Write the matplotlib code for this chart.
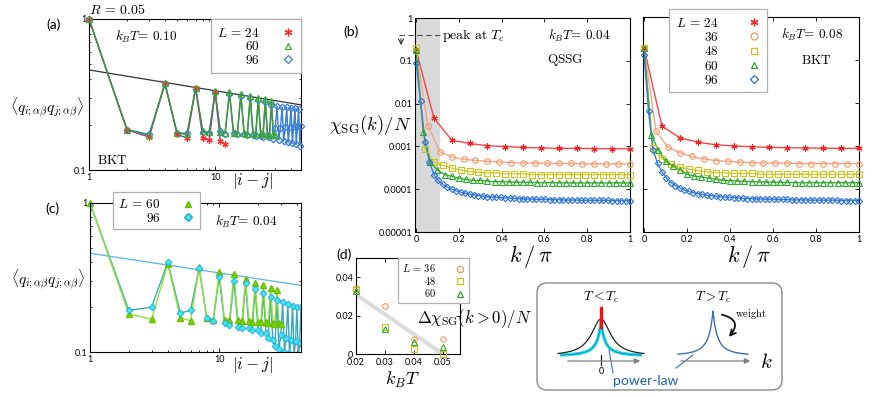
import numpy as np
import matplotlib
matplotlib.use('Agg')
import matplotlib.pyplot as plt
from matplotlib.lines import Line2D
from matplotlib.patches import FancyBboxPatch, FancyArrowPatch
from matplotlib.ticker import NullFormatter, NullLocator

plt.rcParams['font.family'] = ['Lato', 'DejaVu Sans']
plt.rcParams['mathtext.fontset'] = 'cm'
plt.rcParams['axes.linewidth'] = 0.8

# ---------------- (a) R = 0.05, kBT = 0.10 : correlation vs |i-j| ----------------
corr_a_L24 = [1.0, 0.185, 0.165, 0.375, 0.172, 0.163, 0.35, 0.163, 0.158, 0.33, 0.155, 0.148]
corr_a_L60 = [1.0, 0.185, 0.17, 0.375, 0.175, 0.172, 0.35, 0.18, 0.178, 0.335,
              0.178, 0.176, 0.33, 0.177, 0.175, 0.32, 0.176, 0.174, 0.31, 0.176,
              0.173, 0.30, 0.175, 0.172, 0.295, 0.174, 0.171, 0.288, 0.173, 0.17]
corr_a_L96 = [1.0, 0.185, 0.172, 0.37, 0.176, 0.175, 0.345, 0.178, 0.176, 0.33,
              0.18, 0.174, 0.32, 0.175, 0.172, 0.31, 0.172, 0.17, 0.30, 0.17,
              0.168, 0.29, 0.168, 0.166, 0.28, 0.167, 0.165, 0.27, 0.16, 0.19,
              0.265, 0.158, 0.19, 0.262, 0.155, 0.192, 0.26, 0.153, 0.193, 0.258,
              0.15, 0.195, 0.257, 0.148, 0.196, 0.255, 0.145, 0.197]
fit_a_x = [1, 48]
fit_a_y = [0.46, 0.27]

# ---------------- (c) kBT = 0.04 ----------------
corr_c_L60 = [1.0, 0.18, 0.166, 0.39, 0.17, 0.162, 0.37, 0.17, 0.165, 0.345,
              0.165, 0.163, 0.333, 0.163, 0.162, 0.31, 0.162, 0.16, 0.29, 0.16,
              0.158, 0.28, 0.158, 0.157, 0.27, 0.157, 0.155, 0.262, 0.156, 0.155]
corr_c_L96 = [1.0, 0.19, 0.2, 0.40, 0.183, 0.19, 0.366, 0.17, 0.162, 0.32,
              0.157, 0.152, 0.30, 0.147, 0.145, 0.29, 0.145, 0.14, 0.265, 0.14,
              0.135, 0.25, 0.135, 0.125, 0.235, 0.12, 0.11, 0.224, 0.105, 0.13,
              0.215, 0.10, 0.125, 0.21, 0.098, 0.12, 0.205, 0.095, 0.118, 0.20,
              0.092, 0.115, 0.20, 0.09, 0.112, 0.195, 0.088, 0.14]
fit_c_x = [1, 43]
fit_c_y = [0.46, 0.28]

# ---------------- (b) chi_SG(k)/N ----------------
chi04_L24 = [0.18, 0.0046, 0.0014, 0.00117, 0.00104, 0.00099, 0.00095, 0.00092, 0.0009,
             0.0009, 0.00089, 0.00088, 0.00088]
chi04_L36 = [0.17, 0.003, 0.00075, 0.00057, 0.0005, 0.00047, 0.00045, 0.00043, 0.00042,
             0.00041, 0.00041, 0.0004, 0.0004, 0.0004, 0.00039, 0.00039, 0.00039, 0.00039, 0.00039]
chi04_L48 = [0.2, 0.00087, 0.00044, 0.00036, 0.00031, 0.00028, 0.00026, 0.00025, 0.00024,
             0.00024, 0.00023, 0.00023, 0.00023, 0.00022, 0.00022, 0.00022, 0.00022, 0.00022,
             0.00022, 0.00022, 0.00022, 0.00022, 0.00022, 0.00022, 0.00022]
chi04_L60 = [0.18, 0.0022, 0.00043, 0.00028, 0.00022, 0.0002, 0.00018, 0.00017, 0.00016,
             0.00016, 0.000155, 0.00015, 0.00015, 0.000148, 0.000146, 0.000145, 0.000144,
             0.000143, 0.000142, 0.000142, 0.000141, 0.000141, 0.00014, 0.00014, 0.00014,
             0.00014, 0.00014, 0.00014, 0.00014, 0.00014, 0.00014]
chi04_L96 = [0.09, 0.0117, 0.0013, 0.00043, 0.00022, 0.00016, 0.00013, 0.000112, 0.0001,
             0.000092, 0.000086, 0.000081, 0.000077, 0.000074, 0.000071, 0.000069, 0.000067,
             0.000066, 0.000065, 0.000064, 0.000063, 0.000062, 0.000061, 0.00006, 0.00006,
             0.000059, 0.000059, 0.000058, 0.000058, 0.000058, 0.000057, 0.000057, 0.000057,
             0.000056, 0.000056, 0.000056, 0.000056, 0.000055, 0.000055, 0.000055, 0.000055,
             0.000055, 0.000055, 0.000055, 0.000054, 0.000054, 0.000054, 0.000054, 0.000054]

chi08_L24 = [0.19, 0.0029, 0.00155, 0.00122, 0.00107, 0.001, 0.00096, 0.00093, 0.00091,
             0.0009, 0.00089, 0.00088, 0.00088]
chi08_L36 = [0.19, 0.0022, 0.00093, 0.0007, 0.00057, 0.0005, 0.00046, 0.00044, 0.00042,
             0.00041, 0.0004, 0.0004, 0.0004, 0.00039, 0.00039, 0.00039, 0.00039, 0.00039, 0.00039]
chi08_L48 = [0.19, 0.0009, 0.0005, 0.00038, 0.00032, 0.00029, 0.00027, 0.00025, 0.00024,
             0.00024, 0.00023, 0.00023, 0.00023, 0.00022, 0.00022, 0.00022, 0.00022, 0.00022,
             0.00022, 0.00022, 0.00022, 0.00022, 0.00022, 0.00022, 0.00022]
chi08_L60 = [0.19, 0.0018, 0.0008, 0.00045, 0.00034, 0.00028, 0.00022, 0.0002, 0.00019,
             0.00018, 0.00017, 0.00016, 0.000157, 0.000153, 0.00015, 0.000148, 0.000146,
             0.000145, 0.000144, 0.000143, 0.000142, 0.000141, 0.00014, 0.00014, 0.00014,
             0.00014, 0.00014, 0.00014, 0.00014, 0.00014, 0.00014]
chi08_L96 = [0.13, 0.0064, 0.0008, 0.0004, 0.00025, 0.00018, 0.00014, 0.00012, 0.000105,
             0.000095, 0.000088, 0.000082, 0.000078, 0.000075, 0.000072, 0.00007, 0.000068,
             0.000066, 0.000065, 0.000064, 0.000063, 0.000062, 0.000061, 0.00006, 0.00006,
             0.000059, 0.000059, 0.000058, 0.000058, 0.000058, 0.000057, 0.000057, 0.000057,
             0.000056, 0.000056, 0.000056, 0.000056, 0.000055, 0.000055, 0.000055, 0.000055,
             0.000055, 0.000055, 0.000055, 0.000054, 0.000054, 0.000054, 0.000054, 0.000054]

# ---------------- (d) Delta chi vs kBT ----------------
temps_d = [0.02, 0.03, 0.04, 0.05]
dchi_L36 = [0.034, 0.025, 0.008, 0.008]
dchi_L48 = [0.034, 0.014, 0.0025, 0.0]
dchi_L60 = [0.033, 0.013, 0.0065, 0.0035]
trend_d_x = [0.02, 0.05]
trend_d_y = [0.031, 0.0]

sizes = [24, 36, 48, 60, 96]
colors = ['#ee2222', '#f4995f', '#c9c41c', '#2ea62e', '#2e72d4']
line_colors = ['#f04848', '#f5a589', '#d0cc34', '#38ac38', '#3c80da']
markers = [(6, 2, 0), 'o', 's', '^', 'D']
msizes = [4.5, 4, 4, 4, 3.2]

W, H = 872, 397
fig = plt.figure(figsize=(W / 100, H / 100), dpi=100)


def box(x0, y0, x1, y1):
    return [x0 / W, 1 - y1 / H, (x1 - x0) / W, (y1 - y0) / H]


def style(ax):
    ax.tick_params(which='both', direction='in', top=True, right=True,
                   labelsize=6.5, pad=2, width=0.6)
    ax.tick_params(which='major', length=3)
    ax.tick_params(which='minor', length=1.6)


def corr_axes(ax, xmax):
    ax.set_xscale('log')
    ax.set_yscale('log')
    ax.set_xlim(1, xmax)
    ax.set_ylim(0.1, 1)
    ax.set_xticks([1, 10], ['1', '10'])
    ax.set_yticks([0.1, 1], ['0.1', '1'])
    ax.xaxis.set_minor_formatter(NullFormatter())
    ax.yaxis.set_minor_formatter(NullFormatter())
    style(ax)


def small_legend(ax, handles, anchor, fs, pad_text):
    leg = ax.legend(handles=handles, loc='upper left', bbox_to_anchor=anchor,
                    markerfirst=False, fancybox=False, edgecolor='#b0b0b0', framealpha=1,
                    fontsize=fs, borderaxespad=0, handlelength=1.0, handletextpad=pad_text,
                    labelspacing=0.05, borderpad=0.4)
    leg.get_frame().set_linewidth(0.9)
    leg.set_zorder(6)
    return leg


# ---- (a)
ax_a = fig.add_axes(box(89, 19, 301, 170))
corr_axes(ax_a, 48)
ax_a.plot(fit_a_x, fit_a_y, color='#333333', lw=0.9)
for vals, lc in [(corr_a_L96, '#3a7fd6'), (corr_a_L24, '#9b30c8'), (corr_a_L60, '#3f9a2a')]:
    x = np.arange(1, len(vals) + 1)
    ax_a.plot(x, vals, color=lc, lw=1.0, zorder=2)
ha = []
for vals, mc, mk, ms, lab, z in [
        (corr_a_L96, '#3a7fd6', 'D', 3.3, r'$96$', 3),
        (corr_a_L24, '#ff2a2a', (6, 2, 0), 4.5, r'$L\,=\,24$', 4),
        (corr_a_L60, '#3aa83a', '^', 4.0, r'$60$', 5)]:
    x = np.arange(1, len(vals) + 1)
    ax_a.plot(x, vals, ls='none', marker=mk, ms=ms, mfc='none', mec=mc, mew=0.9,
              clip_on=False, zorder=z)
    ha.append(Line2D([], [], ls='none', marker=mk, ms=ms + 1, mfc='none', mec=mc, mew=0.9, label=lab))
leg = ax_a.legend(handles=[ha[1], ha[2], ha[0]], loc='upper right', markerfirst=False,
                  fancybox=False, edgecolor='#b0b0b0', framealpha=1, fontsize=9.5,
                  borderaxespad=0, handlelength=1.0, handletextpad=1.6, labelspacing=0.05,
                  borderpad=0.5)
leg.get_frame().set_linewidth(0.9)

# ---- (c)
ax_c = fig.add_axes(box(90, 203, 301, 352))
corr_axes(ax_c, 43)
ax_c.plot(fit_c_x, fit_c_y, color='#5ab4e0', lw=0.9)
x60 = np.arange(1, len(corr_c_L60) + 1)
x96 = np.arange(1, len(corr_c_L96) + 1)
ax_c.plot(x96, corr_c_L96, color='#3aa8b8', lw=1.0)
ax_c.plot(x60, corr_c_L60, color='#8fe03a', lw=1.0)
ax_c.plot(x60, corr_c_L60, ls='none', marker='^', ms=4.0, color='#7ed600', mec='#66c000', clip_on=False)
ax_c.plot(x96, corr_c_L96, ls='none', marker='D', ms=3.5, color='#3ee6f0', mec='#2aa8d8', mew=0.6)
hc = [Line2D([], [], ls='none', marker='^', ms=5, color='#7ed600', mec='#66c000', label=r'$L\,=\,60$'),
      Line2D([], [], ls='none', marker='D', ms=4.5, color='#3ee6f0', mec='#2aa8d8', label=r'$96$')]
small_legend(ax_c, hc, ((113 - 90) / 211, (352 - 192) / 149), 9.5, 1.6)


# ---- (b)
def chi_axes(ax, data, labels):
    ax.set_yscale('log')
    ax.set_xlim(-0.005, 1.0)
    ax.set_ylim(1e-5, 1)
    ax.set_xticks([0, 0.2, 0.4, 0.6, 0.8, 1], ['0', '0.2', '0.4', '0.6', '0.8', '1'])
    dec = [1e-5, 1e-4, 1e-3, 1e-2, 1e-1, 1]
    ax.set_yticks(dec, ['0.00001', '0.0001', '0.001', '0.01', '0.1', '1'] if labels else [''] * 6)
    ax.yaxis.set_minor_locator(NullLocator())
    style(ax)
    for vals, lc in zip(data, line_colors):
        k = np.linspace(0, 1, len(vals))
        ax.plot(k, vals, color=lc, lw=1.0, zorder=2)
    for vals, c, mk, ms in zip(data, colors, markers, msizes):
        k = np.linspace(0, 1, len(vals))
        ax.plot(k, vals, ls='none', marker=mk, ms=ms, mfc='none', mec=c, mew=0.8,
                clip_on=False, zorder=3)


ax_b1 = fig.add_axes(box(415, 18, 630, 232))
ax_b1.axvspan(-0.01, 0.11, color='#d9d9d9', lw=0, zorder=0)
chi_axes(ax_b1, [chi04_L24, chi04_L36, chi04_L48, chi04_L60, chi04_L96], True)

ax_b2 = fig.add_axes(box(643, 17, 859, 232))
chi_axes(ax_b2, [chi08_L24, chi08_L36, chi08_L48, chi08_L60, chi08_L96], False)
hb = []
for L, c, mk, ms in zip(sizes, colors, markers, msizes):
    lab = r'$L\,=\,%d$' % L if L == 24 else r'$%d$' % L
    hb.append(Line2D([], [], ls='none', marker=mk, ms=ms + 1, mfc='none', mec=c, mew=0.9, label=lab))
leg = ax_b2.legend(handles=hb, loc='upper left', bbox_to_anchor=((669 - 643) / 216, (232 - 9) / 215),
                   markerfirst=False, fancybox=False, edgecolor='#b0b0b0', framealpha=1,
                   fontsize=9.5, borderaxespad=0, handlelength=1.0, handletextpad=2.2,
                   labelspacing=0.1, borderpad=0.5)
leg.get_frame().set_linewidth(0.9)

# ---- (d)
ax_d = fig.add_axes(box(356, 258, 460, 354))
ax_d.set_xlim(0.02, 0.056)
ax_d.set_ylim(0, 0.05)
ax_d.set_xticks(temps_d, ['0.02', '0.03', '0.04', '0.05'])
ax_d.set_yticks([0, 0.02, 0.04], ['0', '0.02', '0.04'])
style(ax_d)
ax_d.tick_params(axis='x', pad=3)
ax_d.plot(trend_d_x, trend_d_y, color='#dcdcdc', lw=3, solid_capstyle='butt', zorder=1)
hd = []
for vals, c, mk, ms, lab in [(dchi_L36, colors[1], 'o', 4, r'$L\,=\,36$'),
                             (dchi_L48, colors[2], 's', 4, r'$48$'),
                             (dchi_L60, colors[3], '^', 4, r'$60$')]:
    ax_d.plot(temps_d, vals, ls='none', marker=mk, ms=ms, mfc='none', mec=c, mew=0.8,
              clip_on=False, zorder=3)
    hd.append(Line2D([], [], ls='none', marker=mk, ms=ms + 0.5, mfc='none', mec=c, mew=0.9, label=lab))
leg = small_legend(ax_d, hd, ((398 - 356) / 104, 1.0), 7.5, 1.8)
leg.set_bbox_to_anchor(((398 - 356) / 104, 1.0), transform=ax_d.transAxes)

# ---------------- overlay in figure pixels: labels and schematic ----------------
ov = fig.add_axes([0, 0, 1, 1])
ov.set_xlim(0, W)
ov.set_ylim(H, 0)
ov.axis('off')

cm = dict(ha='center', va='center')
ov.text(117, 9, r'$R\,=\,0.05$', fontsize=10, **cm)
ov.text(54, 25, '(a)', fontsize=10, **cm)
ov.text(146, 37, r'$k_BT\!=\,0.10$', fontsize=9.5, **cm)
ov.text(112, 160, r'$\mathrm{BKT}$', fontsize=9.5, **cm)
ov.text(252, 181, r'$|i-j|$', fontsize=12, **cm)
ov.text(47, 108, r'$\langle q_{i;\alpha\beta}q_{j;\alpha\beta}\rangle$', fontsize=11, **cm)
ov.text(52, 209, '(c)', fontsize=10, **cm)
ov.text(246, 222, r'$k_BT\!=\,0.04$', fontsize=9.5, **cm)
ov.text(252, 365, r'$|i-j|$', fontsize=12, **cm)
ov.text(48, 280, r'$\langle q_{i;\alpha\beta}q_{j;\alpha\beta}\rangle$', fontsize=11, **cm)
ov.text(351, 32, '(b)', fontsize=10, **cm)
ov.text(579, 36, r'$k_BT\!=\,0.04$', fontsize=9.5, **cm)
ov.text(565, 60, r'$\mathrm{QSSG}$', fontsize=9.5, **cm)
ov.text(812, 35, r'$k_BT\!=\,0.08$', fontsize=9.5, **cm)
ov.text(816, 59, r'$\mathrm{BKT}$', fontsize=9.5, **cm)
ov.plot([399, 440], [35, 35], color='#555555', lw=0.8, ls=(0, (5, 3)))
ov.text(442, 35, r'$\mathrm{peak\ at}\ T_c$', fontsize=10, ha='left', va='center')
ov.annotate('', xy=(401, 48), xytext=(401, 36),
            arrowprops=dict(arrowstyle='->', lw=0.8, color='#333333', mutation_scale=9))
ov.text(370, 125, r'$\chi_{\rm SG}(k)/N$', fontsize=13.5, **cm)
ov.text(531, 256, r'$k\,/\,\pi$', fontsize=16, **cm)
ov.text(749, 256, r'$k\,/\,\pi$', fontsize=16, **cm)
ov.text(344, 255, '(d)', fontsize=10, **cm)
ov.text(474, 319, r'$\Delta\chi_{\rm SG}(k>0)/N$', fontsize=12, **cm)
ov.text(402, 380, r'$k_BT$', fontsize=13, **cm)

# schematic box
ov.add_patch(FancyBboxPatch((537, 283), 245, 107, boxstyle='round,pad=0,rounding_size=10',
                            fc='white', ec='#8a8a8a', lw=1.0))
u = np.linspace(-1, 1, 301)
# T < Tc
ov.annotate('', xy=(643, 361), xytext=(565, 361),
            arrowprops=dict(arrowstyle='-|>', lw=0.9, color='#808080', mutation_scale=8))
ov.plot(601 + 41 * u, 356 - 34 / (1 + np.abs(u) / 0.2) ** 2, color='#22e0f0', lw=2.4,
        solid_capstyle='butt')
ov.plot(601 + 41 * u, 356 - 34 / (1 + np.abs(u) / 0.2) ** 2, color='#1a6a9a', lw=0.5)
ov.plot(601 + 43 * u, 356 - 37 / (1 + (u / 0.27) ** 2), color='#222222', lw=0.9)
ov.plot([601, 601], [308, 327], color='#ee1111', lw=2.4)
ov.plot([601, 601], [355, 365], color='#222222', lw=0.9)
ov.text(601, 371, '0', fontsize=6.5, **cm)
ov.text(601, 297, r'$T<T_c$', fontsize=9.5, **cm)
# T > Tc
ov.annotate('', xy=(753, 361), xytext=(678, 361),
            arrowprops=dict(arrowstyle='-|>', lw=0.9, color='#808080', mutation_scale=8))
ov.plot(713 + 35 * u, 356 - 45 / (1 + np.abs(u) / 0.25) ** 2, color='#3d6fb0', lw=1.0)
ov.text(713, 297, r'$T>T_c$', fontsize=9.5, **cm)
ov.text(766, 362, r'$k$', fontsize=15, **cm)
ov.add_patch(FancyArrowPatch((719, 314), (727, 339), connectionstyle='arc3,rad=-0.9',
                             arrowstyle='->', mutation_scale=10, lw=1.3, color='#111111'))
ov.text(751, 314, r'$\mathrm{weight}$', fontsize=7.5, **cm)
ov.plot([613, 609], [373, 350], color='#3d6fb0', lw=0.8)
ov.plot([676, 693], [368, 355], color='#3d6fb0', lw=0.8)
ov.text(646, 381, 'power-law', fontsize=10, color='#2060b0', **cm)

fig.savefig('out.png', dpi=100)
